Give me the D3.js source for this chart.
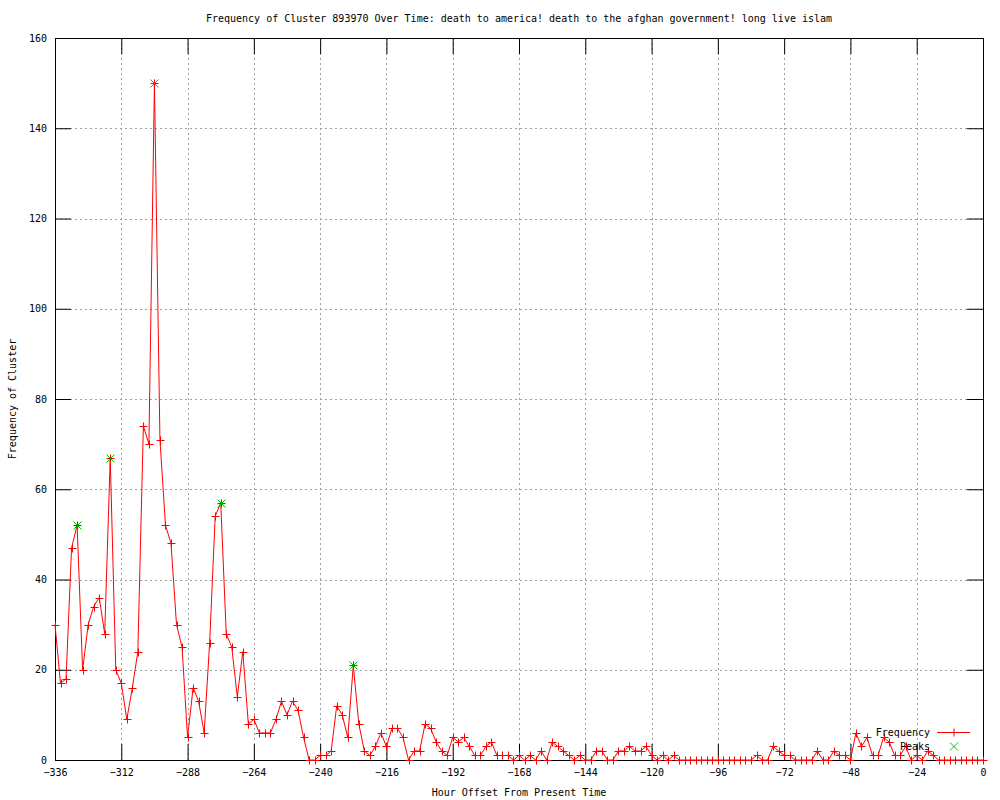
<!DOCTYPE html>
<html>
<head>
<meta charset="utf-8">
<script src="https://cdn.jsdelivr.net/npm/d3@7"></script>
<style>
  html, body { margin: 0; padding: 0; background: #fff; }
  text { font-family: "DejaVu Sans Mono", "Liberation Mono", monospace; font-size: 10px; fill: #000; }
</style>
</head>
<body>
<svg id="chart" width="1000" height="800"></svg>
<script>
const titleText = "Frequency of Cluster 893970 Over Time: death to america! death to the afghan government! long live islam";
const xLabel = "Hour Offset From Present Time";
const yLabel = "Frequency of Cluster";
const xTicks = [-336, -312, -288, -264, -240, -216, -192, -168, -144, -120, -96, -72, -48, -24, 0];
const yTicks = [0, 20, 40, 60, 80, 100, 120, 140, 160];

// hours from -336 to 0, every 2 hours
const hours = d3.range(-336, 1, 2);
const frequency = [
  30, 17, 18, 47, 52, 20, 30, 34, 36, 28,   // -336 .. -318
  67, 20, 17, 9, 16, 24, 74, 70, 150, 71,    // -316 .. -298
  52, 48, 30, 25, 5, 16, 13, 6, 26, 54,      // -296 .. -278
  57, 28, 25, 14, 24, 8, 9, 6, 6, 6,         // -276 .. -258
  9, 13, 10, 13, 11, 5, 0, 0, 1, 1,          // -256 .. -238
  2, 12, 10, 5, 21, 8, 2, 1, 3, 6,           // -236 .. -218
  3, 7, 7, 5, 0, 2, 2, 8, 7, 4,              // -216 .. -198
  2, 1, 5, 4, 5, 3, 1, 1, 3, 4,              // -196 .. -178
  1, 1, 1, 0, 1, 0, 1, 0, 2, 0,              // -176 .. -158
  4, 3, 2, 1, 0, 1, 0, 0, 2, 2,              // -156 .. -138
  0, 0, 2, 2, 3, 2, 2, 3, 1, 0,              // -136 .. -118
  1, 0, 1, 0, 0, 0, 0, 0, 0, 0,              // -116 .. -98
  0, 0, 0, 0, 0, 0, 0, 1, 0, 0,              // -96 .. -78
  3, 2, 1, 1, 0, 0, 0, 0, 2, 0,              // -76 .. -58
  0, 2, 1, 1, 0, 6, 3, 5, 1, 1,              // -56 .. -38
  5, 4, 1, 1, 3, 0, 1, 0, 2, 1,              // -36 .. -18
  0, 0, 0, 0, 0, 0, 0, 0, 0                  // -16 .. 0
];
const peakHours = [-328, -316, -300, -276, -228];
const peakValues = [52, 67, 150, 57, 21];

const seriesNames = ["Frequency", "Peaks"];
const colors = { Frequency: "#ff0000", Peaks: "#00c000" };

const W = 1000, H = 800;
const margin = { left: 55, right: 17, top: 38, bottom: 40 };
const svg = d3.select("#chart");

const x = d3.scaleLinear().domain([-336, 0]).range([margin.left, W - margin.right]);
const y = d3.scaleLinear().domain([0, 160]).range([H - margin.bottom, margin.top]);

const x0 = x.range()[0], x1 = x.range()[1], y0 = y.range()[0], y1 = y.range()[1];
const tickLen = 16;

// grid
const grid = svg.append("g").attr("stroke", "#a0a0a0").attr("stroke-width", 1).attr("stroke-dasharray", "2,3");
xTicks.filter(t => t > -336 && t < 0).forEach(t => {
  grid.append("line").attr("x1", Math.round(x(t)) + 0.5).attr("x2", Math.round(x(t)) + 0.5).attr("y1", y1).attr("y2", y0);
});
yTicks.filter(t => t > 0 && t < 160).forEach(t => {
  grid.append("line").attr("x1", x0).attr("x2", x1).attr("y1", Math.round(y(t)) + 0.5).attr("y2", Math.round(y(t)) + 0.5);
});

// axes using d3 axis (ticks inward)
const xAxisB = d3.axisBottom(x).tickValues(xTicks).tickSizeInner(-tickLen).tickSizeOuter(0).tickPadding(9).tickFormat(d3.format("d"));
const xAxisT = d3.axisTop(x).tickValues(xTicks).tickSizeInner(-tickLen).tickSizeOuter(0).tickFormat("");
const yAxisL = d3.axisLeft(y).tickValues(yTicks).tickSizeInner(-tickLen).tickSizeOuter(0).tickPadding(8).tickFormat(d3.format("d"));
const yAxisR = d3.axisRight(y).tickValues(yTicks).tickSizeInner(-tickLen).tickSizeOuter(0).tickFormat("");

function styleAxis(g) {
  g.select(".domain").remove();
  g.selectAll(".tick line").attr("stroke", "#000").attr("stroke-width", 1);
  g.selectAll("text").attr("font-family", "DejaVu Sans Mono, monospace").attr("font-size", 10).attr("fill", "#000");
}
svg.append("g").attr("transform", `translate(0,${y0})`).call(xAxisB).call(styleAxis);
svg.append("g").attr("transform", `translate(0,${y1})`).call(xAxisT).call(styleAxis);
svg.append("g").attr("transform", `translate(${x0},0)`).call(yAxisL).call(styleAxis);
svg.append("g").attr("transform", `translate(${x1},0)`).call(yAxisR).call(styleAxis);

// frame
svg.append("rect").attr("x", x0 + 0.5).attr("y", y1 + 0.5).attr("width", x1 - x0).attr("height", y0 - y1)
  .attr("fill", "none").attr("stroke", "#000").attr("stroke-width", 1);

// data line
const data = hours.map((h, i) => ({ h, v: frequency[i] }));
const line = d3.line().x(d => x(d.h)).y(d => y(d.v));
svg.append("path").datum(data).attr("d", line).attr("fill", "none").attr("stroke", colors.Frequency).attr("stroke-width", 1);

const ps = 4;
function plus(g, cx, cy, color) {
  g.append("path").attr("d", `M${cx - ps},${cy}H${cx + ps}M${cx},${cy - ps}V${cy + ps}`)
    .attr("stroke", color).attr("stroke-width", 1).attr("fill", "none");
}
function cross(g, cx, cy, color) {
  g.append("path").attr("d", `M${cx - ps},${cy - ps}L${cx + ps},${cy + ps}M${cx - ps},${cy + ps}L${cx + ps},${cy - ps}`)
    .attr("stroke", color).attr("stroke-width", 1).attr("fill", "none");
}
const marks = svg.append("g");
data.forEach(d => plus(marks, Math.round(x(d.h)) + 0.5, Math.round(y(d.v)) + 0.5, colors.Frequency));

const peakG = svg.append("g");
peakHours.forEach((h, i) => cross(peakG, Math.round(x(h)) + 0.5, Math.round(y(peakValues[i])) + 0.5, colors.Peaks));

// legend
const leg = svg.append("g");
const legTextX = 930, legSampleX1 = 937, legSampleX2 = 970, legY0 = 732, legDy = 14;
seriesNames.forEach((name, i) => {
  const ly = legY0 + i * legDy;
  leg.append("text").attr("x", legTextX).attr("y", ly).attr("dy", "0.35em").attr("text-anchor", "end").text(name);
  const cx = (legSampleX1 + legSampleX2) / 2 + 0.5;
  if (name === "Frequency") {
    leg.append("line").attr("x1", legSampleX1).attr("x2", legSampleX2).attr("y1", ly + 0.5).attr("y2", ly + 0.5).attr("stroke", colors.Frequency);
    plus(leg, cx, ly + 0.5, colors.Frequency);
  } else {
    cross(leg, cx, ly + 0.5, colors.Peaks);
  }
});

// titles
svg.append("text").attr("x", (x0 + x1) / 2).attr("y", 22).attr("text-anchor", "middle").text(titleText);
svg.append("text").attr("x", (x0 + x1) / 2).attr("y", 796).attr("text-anchor", "middle").text(xLabel);
svg.append("text").attr("transform", `translate(16,${(y0 + y1) / 2}) rotate(-90)`).attr("text-anchor", "middle").text(yLabel);
</script>
</body>
</html>
